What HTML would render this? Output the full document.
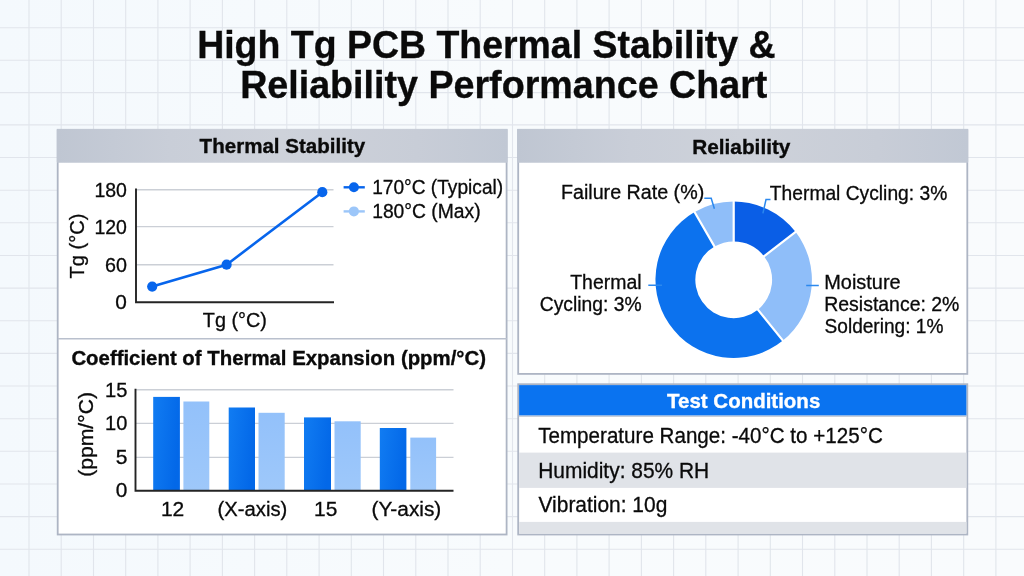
<!DOCTYPE html>
<html lang="en"><head><meta charset="utf-8"><title>High Tg PCB Thermal Stability &amp; Reliability Performance Chart</title>
<style>html,body{margin:0;padding:0;background:#f7fafd;overflow:hidden}svg{display:block}text{font-family:"Liberation Sans",Arial,Helvetica,sans-serif;fill:#0a0a0a;stroke:#0a0a0a;stroke-width:.3px}.b{font-weight:bold;stroke-width:.35px}</style></head><body>
<svg width="1024" height="576" viewBox="0 0 1024 576">
<defs>
<linearGradient id="hd" x1="0" y1="0" x2="1" y2="0"><stop offset="0" stop-color="#bfc6d2"/><stop offset="0.25" stop-color="#c9ced8"/><stop offset="0.5" stop-color="#ced2da"/><stop offset="0.8" stop-color="#c8cdd7"/><stop offset="1" stop-color="#c1c8d4"/></linearGradient>
<linearGradient id="bd" x1="0" y1="0" x2="1" y2="0.3"><stop offset="0" stop-color="#117cf2"/><stop offset="1" stop-color="#0368e8"/></linearGradient>
<linearGradient id="bl" x1="0" y1="0" x2="0" y2="1"><stop offset="0" stop-color="#93c1fa"/><stop offset="1" stop-color="#9ec8fa"/></linearGradient>
<linearGradient id="bg" x1="0" y1="0" x2="1" y2="0"><stop offset="0" stop-color="#f4f9fd"/><stop offset="0.5" stop-color="#f8fbfd"/><stop offset="1" stop-color="#f9fbfd"/></linearGradient>
</defs>
<rect width="1024" height="576" fill="url(#bg)"/>
<path d="M29.0 0V576M61.2 0V576M93.5 0V576M125.7 0V576M157.9 0V576M190.1 0V576M222.4 0V576M254.6 0V576M286.8 0V576M319.1 0V576M351.3 0V576M383.5 0V576M415.8 0V576M448.0 0V576M480.2 0V576M512.5 0V576M544.7 0V576M576.9 0V576M609.1 0V576M641.4 0V576M673.6 0V576M705.8 0V576M738.1 0V576M770.3 0V576M802.5 0V576M834.8 0V576M867.0 0V576M899.2 0V576M931.4 0V576M963.7 0V576M995.9 0V576M0 27.8H1024M0 60.3H1024M0 92.6H1024M0 124.9H1024M0 157.5H1024M0 190.2H1024M0 222.8H1024M0 255.5H1024M0 288.1H1024M0 320.8H1024M0 353.4H1024M0 386.0H1024M0 418.7H1024M0 451.3H1024M0 484.0H1024M0 516.6H1024M0 549.3H1024" stroke="#e1e5ec" stroke-width="1.1" fill="none"/>
<text class="b" transform="translate(197.16 57.60) scale(0.9461 1)" font-size="39.6">High Tg PCB Thermal Stability &amp;</text>
<text class="b" transform="translate(240.15 98.30) scale(0.9510 1)" font-size="39.6">Reliability Performance Chart</text>
<rect x="57.7" y="129.8" width="448.9" height="404.7" fill="#ffffff" stroke="#adb5c4" stroke-width="1.8"/>
<rect x="56.8" y="128.9" width="450.7" height="33.8" rx="1" fill="url(#hd)"/>
<text class="b" transform="translate(199.59 153.30) scale(0.9890 1)" font-size="20.8">Thermal Stability</text>
<path d="M58 338.8H507" stroke="#b9c0cd" stroke-width="1.4"/>
<path d="M136 189.7H333.5M136 226.6H333.5M136 264.7H333.5" stroke="#cbcfd6" stroke-width="1.4" fill="none"/>
<path d="M136 188.5V302.2H334" stroke="#242424" stroke-width="1.9" fill="none"/>
<text transform="translate(94.44 197.30) scale(0.9841 1)" font-size="19.8">180</text>
<text transform="translate(94.44 233.80) scale(0.9841 1)" font-size="19.8">120</text>
<text transform="translate(105.01 272.40) scale(0.9953 1)" font-size="19.8">60</text>
<text transform="translate(115.37 309.20) scale(1.0522 1)" font-size="19.8">0</text>
<text transform="translate(84.40 278.60) rotate(-90) scale(1.0165 1)" font-size="19.8">Tg (°C)</text>
<text transform="translate(202.80 327.20) scale(1.0005 1)" font-size="19.8">Tg (°C)</text>
<path d="M152.2 286.6L226.6 264.7L322.3 192.2" stroke="#0765ec" stroke-width="2.6" fill="none" stroke-linejoin="round"/>
<circle cx="152.2" cy="286.6" r="5.1" fill="#0765ec"/>
<circle cx="226.6" cy="264.7" r="5.1" fill="#0765ec"/>
<circle cx="322.3" cy="192.2" r="5.1" fill="#0765ec"/>
<path d="M343.6 187.3H364.8" stroke="#0765ec" stroke-width="2.4"/><circle cx="353.9" cy="187.3" r="5" fill="#0765ec"/>
<path d="M343.6 211.4H364.8" stroke="#9cc6f9" stroke-width="2.4"/><circle cx="353.9" cy="211.4" r="5" fill="#9cc6f9"/>
<text transform="translate(372.16 194.00) scale(0.9664 1)" font-size="19.8">170°C (Typical)</text>
<text transform="translate(372.15 218.20) scale(0.9751 1)" font-size="19.8">180°C (Max)</text>
<text class="b" transform="translate(71.38 365.00) scale(0.9898 1)" font-size="20.6">Coefficient of Thermal Expansion (ppm/°C)</text>
<path d="M135.5 389.8H453.5M135.5 423.4H453.5M135.5 457.4H453.5" stroke="#cbcfd6" stroke-width="1.4" fill="none"/>
<rect x="153.2" y="396.9" width="26.7" height="93.8" fill="url(#bd)"/>
<rect x="183.4" y="401.5" width="25.9" height="89.2" fill="url(#bl)"/>
<rect x="228.7" y="407.5" width="26.3" height="83.2" fill="url(#bd)"/>
<rect x="258.5" y="412.8" width="26.2" height="77.9" fill="url(#bl)"/>
<rect x="304" y="417.4" width="27.0" height="73.3" fill="url(#bd)"/>
<rect x="334.5" y="421.3" width="26.2" height="69.4" fill="url(#bl)"/>
<rect x="379.8" y="428" width="26.6" height="62.7" fill="url(#bd)"/>
<rect x="410.3" y="437.6" width="25.8" height="53.1" fill="url(#bl)"/>
<path d="M135.5 388.8V490.7H453.5" stroke="#242424" stroke-width="1.9" fill="none"/>
<text transform="translate(105.09 396.80) scale(1.0152 1)" font-size="19.8">15</text>
<text transform="translate(105.10 430.40) scale(1.0101 1)" font-size="19.8">10</text>
<text transform="translate(115.76 464.20) scale(1.0633 1)" font-size="19.8">5</text>
<text transform="translate(115.77 497.20) scale(1.0522 1)" font-size="19.8">0</text>
<text transform="translate(92.80 476.87) rotate(-90) scale(1.0486 1)" font-size="20.2">(ppm/°C)</text>
<text transform="translate(160.92 515.80) scale(1.0614 1)" font-size="19.8">12</text>
<text transform="translate(217.59 515.80) scale(1.0223 1)" font-size="19.8">(X-axis)</text>
<text transform="translate(314.03 515.80) scale(1.0558 1)" font-size="19.8">15</text>
<text transform="translate(371.45 515.80) scale(1.0523 1)" font-size="19.8">(Y-axis)</text>
<rect x="518.2" y="129.8" width="449.1" height="244.1" fill="#ffffff" stroke="#adb5c4" stroke-width="1.8"/>
<rect x="517.3" y="128.9" width="450.9" height="33.8" rx="1" fill="url(#hd)"/>
<text class="b" transform="translate(692.25 153.50) scale(0.9998 1)" font-size="20.8">Reliability</text>
<path d="M733.70 201.60A78.2 78.2 0 0 1 795.49 231.87L764.04 256.26A38.4 38.4 0 0 0 733.70 241.40Z" fill="#0a5ee6"/>
<path d="M795.49 231.87A78.2 78.2 0 0 1 782.91 340.57L757.87 309.64A38.4 38.4 0 0 0 764.04 256.26Z" fill="#8fbef9"/>
<path d="M782.91 340.57A78.2 78.2 0 1 1 694.60 212.08L714.50 246.54A38.4 38.4 0 1 0 757.87 309.64Z" fill="#0c72ee"/>
<path d="M694.60 212.08A78.2 78.2 0 0 1 733.70 201.60L733.70 241.40A38.4 38.4 0 0 0 714.50 246.54Z" fill="#8fbef9"/>
<path d="M733.70 242.40L733.70 200.60M763.25 256.88L796.28 231.26M757.24 308.87L783.54 341.35M715.00 247.41L694.10 211.21" stroke="#ffffff" stroke-width="2.2" fill="none"/>
<path d="M704.3 198.3H711.2L714.4 208.8M770.5 199.5H766L762.9 213.4M648.3 285.2H662M806.2 285.5H818.8" stroke="#2b88ee" stroke-width="1.5" fill="none"/>
<text transform="translate(560.92 199.10) scale(0.9945 1)" font-size="19.8">Failure Rate (%)</text>
<text transform="translate(769.82 199.50) scale(0.9721 1)" font-size="19.8">Thermal Cycling: 3%</text>
<text transform="translate(570.21 288.90) scale(0.9833 1)" font-size="19.8">Thermal</text>
<text transform="translate(539.73 310.80) scale(0.9751 1)" font-size="19.8">Cycling: 3%</text>
<text transform="translate(824.20 288.50) scale(1.0074 1)" font-size="19.8">Moisture</text>
<text transform="translate(824.24 310.80) scale(0.9828 1)" font-size="19.8">Resistance: 2%</text>
<text transform="translate(824.54 333.10) scale(0.9649 1)" font-size="19.8">Soldering: 1%</text>
<rect x="518.2" y="384.2" width="449.1" height="150.3" fill="#ffffff" stroke="#adb5c4" stroke-width="1.8"/>
<rect x="519.1" y="385.1" width="447.3" height="30.5" fill="#0a73f0"/>
<rect x="519.1" y="415.6" width="447.3" height="1.3" fill="#c3c9d4"/>
<rect x="519.1" y="452.6" width="447.3" height="35.3" fill="#e0e3e8"/>
<rect x="519.1" y="521.9" width="447.3" height="11.7" fill="#e0e3e8"/>
<text class="b" transform="translate(667.10 408.00) scale(0.9855 1)" font-size="20.8" style="fill:#ffffff;stroke:#ffffff;">Test Conditions</text>
<text transform="translate(538.19 442.90) scale(0.9632 1)" font-size="21.4">Temperature Range: -40°C to +125°C</text>
<text transform="translate(538.22 477.80) scale(0.9789 1)" font-size="21.4">Humidity: 85% RH</text>
<text transform="translate(538.50 512.20) scale(0.9792 1)" font-size="21.4">Vibration: 10g</text>
</svg></body></html>
